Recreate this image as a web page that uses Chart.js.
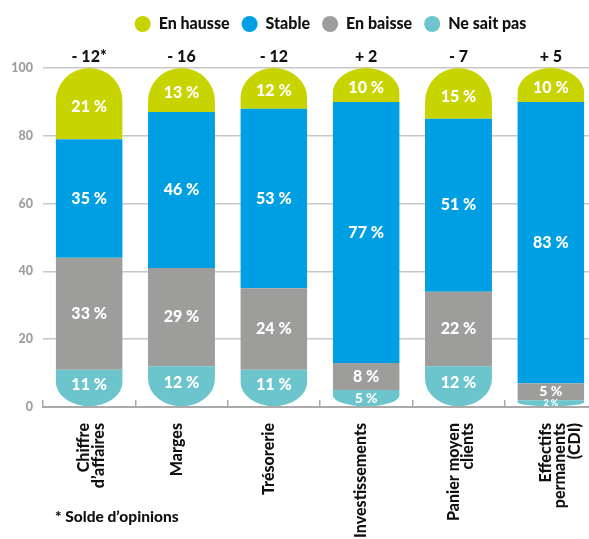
<!DOCTYPE html>
<html>
<head>
<meta charset="utf-8">
<script src="https://cdn.jsdelivr.net/npm/chart.js@4.4.1/dist/chart.umd.min.js"></script>
<style>
  html, body { margin: 0; padding: 0; background: #fff; overflow: hidden; width: 589px; height: 539px; }
  #wrap { position: absolute; left: 0; top: 0; width: 600px; height: 539px; }
  #note { position: absolute; left: 55px; top: 507px; font-family: Lato, sans-serif; font-weight: 900; font-size: 15.5px; color: #111; white-space: nowrap; }
</style>
</head>
<body>
<div id="wrap"><canvas id="c"></canvas></div>
<div id="note">* Solde d’opinions</div>
<script>
const categories = [["Chiffre", "d’affaires"], "Marges", "Trésorerie", "Investissements", ["Panier moyen", "clients"], ["Effectifs", "permanents", "(CDI)"]];
const soldes = ["- 12*", "- 16", "- 12", "+ 2", "- 7", "+ 5"];
const neSaitPas = [11, 12, 11, 5, 12, 2];
const enBaisse = [33, 29, 24, 8, 22, 5];
const stable = [35, 46, 53, 77, 51, 83];
const enHausse = [21, 13, 12, 10, 15, 10];
const yTicks = [0, 20, 40, 60, 80, 100];

const FAMILY = 'Lato, sans-serif';
const W = '900';

const capClip = {
  id: 'capClip',
  beforeDatasetsDraw(chart) {
    const ctx = chart.ctx;
    const n = chart.data.datasets.length;
    const bottomMeta = chart.getDatasetMeta(0);
    const topMeta = chart.getDatasetMeta(n - 1);
    ctx.save();
    ctx.beginPath();
    bottomMeta.data.forEach((b, i) => {
      const t = topMeta.data[i];
      const rx = b.width / 2;
      const cx = b.x;
      const top = t.y, bottom = b.base;
      const hT = Math.abs(t.base - t.y), hB = Math.abs(b.base - b.y);
      const ryT = Math.min(rx, hT * 0.75);
      const ryB = Math.min(rx, hB * 0.68);
      ctx.moveTo(cx - rx, top + ryT);
      ctx.ellipse(cx, top + ryT, rx, ryT, 0, Math.PI, 2 * Math.PI);
      ctx.lineTo(cx + rx, bottom - ryB);
      ctx.ellipse(cx, bottom - ryB, rx, ryB, 0, 0, Math.PI);
      ctx.closePath();
    });
    ctx.clip();
  },
  afterDatasetsDraw(chart) { chart.ctx.restore(); }
};

const labelPlugin = {
  id: 'segLabels',
  afterDatasetsDraw(chart) {
    const ctx = chart.ctx;
    const n = chart.data.datasets.length;
    ctx.save();
    ctx.fillStyle = '#fff';
    ctx.textAlign = 'center';
    ctx.textBaseline = 'middle';
    chart.data.datasets.forEach((ds, di) => {
      const meta = chart.getDatasetMeta(di);
      meta.data.forEach((bar, i) => {
        const v = ds.data[i];
        const h = Math.abs(bar.base - bar.y);
        let size = 16;
        if (h < 10) size = 9; else if (h < 22) size = 14;
        ctx.font = W + ' ' + size + 'px ' + FAMILY;
        let y = (bar.y + bar.base) / 2;
        if (h > 22) {
          if (di === n - 1) y += 3;
          if (di === 0) y -= 3;
        }
        ctx.fillText(v + ' %', bar.x, y);
      });
    });
    ctx.restore();
  }
};

const legendShift = {
  id: 'legendShift',
  afterLayout(chart) {
    const lg = chart.legend;
    if (lg) { lg.left += 32; lg.right += 32; }
  }
};

new Chart(document.getElementById('c'), {
  type: 'bar',
  data: {
    labels: categories,
    datasets: [
      { label: 'Ne sait pas', data: neSaitPas, backgroundColor: '#6CC5CC' },
      { label: 'En baisse', data: enBaisse, backgroundColor: '#9D9D9C' },
      { label: 'Stable', data: stable, backgroundColor: '#009FE3' },
      { label: 'En hausse', data: enHausse, backgroundColor: '#C8D400' }
    ]
  },
  options: {
    responsive: true,
    maintainAspectRatio: false,
    animation: false,
    datasets: { bar: { barPercentage: 0.725, categoryPercentage: 1, borderWidth: 0, borderRadius: 0 } },
    layout: { padding: { top: 4, right: 3, left: 0, bottom: 0 } },
    plugins: {
      legend: {
        reverse: true,
        labels: {
          usePointStyle: true, pointStyle: 'circle', pointStyleWidth: 16, boxHeight: 11.3,
          color: '#111', padding: 12,
          font: { family: FAMILY, size: 16, weight: W }
        }
      },
      tooltip: { enabled: false }
    },
    scales: {
      x: {
        stacked: true,
        grid: { display: true, drawOnChartArea: false, tickLength: -7, color: '#aaa', lineWidth: 1.5 },
        border: { display: true, color: '#aaa', width: 2 },
        ticks: { autoSkip: false, minRotation: 90, maxRotation: 90, color: '#111', padding: 23, labelOffset: -5,
          font: { family: FAMILY, size: 16, weight: W, lineHeight: 0.9 } },
        afterFit(s) { s.height = 132; s.paddingLeft = 0; s.paddingRight = 0; }
      },
      xTop: {
        type: 'category', position: 'top', labels: soldes, offset: true,
        grid: { display: false, drawTicks: false }, border: { display: false },
        ticks: { color: '#111', padding: 2, font: { family: FAMILY, size: 16, weight: W } },
        afterFit(s) { s.height = 26; s.paddingLeft = 0; s.paddingRight = 0; }
      },
      y: {
        stacked: true, min: 0, max: 100,
        afterBuildTicks(s) { s.ticks = yTicks.map(v => ({ value: v })); },
        grid: { color: '#c8c8c8', lineWidth: 1.5, drawTicks: false },
        border: { display: false },
        ticks: { color: '#9d9d9d', padding: 10, font: { family: FAMILY, size: 12.5, weight: W } },
        afterFit(s) { s.width = 43; }
      }
    }
  },
  plugins: [capClip, labelPlugin, legendShift]
});
</script>
</body>
</html>
